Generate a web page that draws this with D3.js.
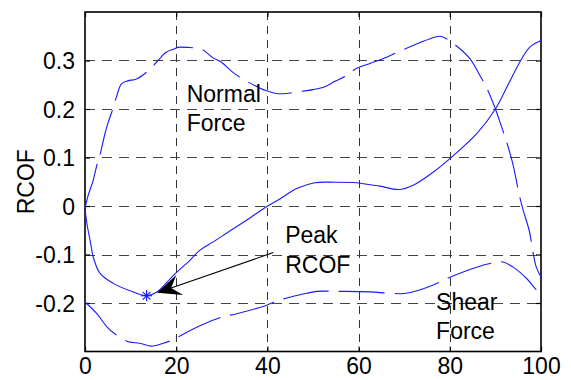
<!DOCTYPE html>
<html><head><meta charset="utf-8">
<script src="https://cdn.jsdelivr.net/npm/d3@7"></script>
<style>
html,body{margin:0;padding:0;background:#fff;}
svg{display:block;font-family:"Liberation Sans",Arial,sans-serif;}
</style></head>
<body><svg id="c" width="571" height="380"></svg>
<script>
const xTicks = [0, 20, 40, 60, 80, 100];
const yTicks = [-0.2, -0.1, 0, 0.1, 0.2, 0.3];
const yTickLabels = ["-0.2", "-0.1", "0", "0.1", "0.2", "0.3"];
const yLabel = "RCOF";

const normalForce = [[0,-0.005],[0.7,0.022],[1.8,0.053],[2.6,0.084],[3.2,0.102],[4.4,0.15],[5,0.17],[6.1,0.2],[6.9,0.225],[8,0.252],[9.4,0.258],[11.3,0.262],[14,0.28],[16,0.3],[17.8,0.317],[19.3,0.323],[20.4,0.327],[22.4,0.327],[25.6,0.323],[28,0.306],[30,0.296],[32.5,0.275],[35.5,0.257],[38.4,0.243],[39.7,0.238],[42,0.232],[44.2,0.232],[45.6,0.234],[50,0.24],[52.6,0.246],[54.8,0.257],[57.4,0.269],[59.6,0.284],[62.5,0.294],[66,0.306],[69,0.319],[73.5,0.337],[75.7,0.345],[77.9,0.35],[80.5,0.337],[84.4,0.304],[86.6,0.269],[88.1,0.243],[90,0.2],[91.4,0.162],[92.5,0.131],[93.9,0.084],[95.2,0.024],[96.1,-0.009],[97.4,-0.05],[98.3,-0.098],[98.9,-0.124],[100,-0.147]];

const rcof = [[0,-0.005],[0.4,-0.035],[1.3,-0.08],[1.8,-0.105],[3.3,-0.139],[6.1,-0.159],[10.5,-0.177],[13.5,-0.185],[15.7,-0.178],[19.4,-0.143],[23,-0.112],[25.2,-0.091],[28.1,-0.074],[32,-0.05],[35.5,-0.029],[39.7,-0.002],[42.8,0.015],[46.4,0.036],[50.4,0.048],[55,0.049],[59.6,0.048],[61,0.046],[64.7,0.041],[68.7,0.034],[72,0.043],[76.4,0.07],[79.7,0.095],[85.9,0.149],[90,0.2],[92.5,0.245],[95.8,0.304],[97.6,0.328],[100,0.341]];

const shearForce = [[0,-0.198],[2.6,-0.222],[4.8,-0.249],[6.6,-0.264],[9.5,-0.28],[12,-0.283],[14.6,-0.289],[17.2,-0.283],[19.5,-0.275],[21.6,-0.264],[25.2,-0.247],[30,-0.229],[33.3,-0.222],[39.7,-0.205],[42,-0.196],[45.3,-0.187],[48.6,-0.18],[50.8,-0.176],[56,-0.176],[62.5,-0.177],[66.9,-0.18],[70.5,-0.18],[76.4,-0.163],[79.3,-0.15],[84.4,-0.131],[88.1,-0.12],[91.4,-0.115],[93.9,-0.126],[96.9,-0.15],[98.7,-0.17],[100,-0.183]];

const peakPoint = [13.5, -0.185];
const arrowFrom = [41.3, -0.096];
const arrowTo = [15.8, -0.179];

const labels = [
  {lines:["Normal","Force"], x:22.3, y:0.214},
  {lines:["Peak","RCOF"], x:43.9, y:-0.077},
  {lines:["Shear","Force"], x:77, y:-0.215}
];

const svg = d3.select("#c");
const L = 85, R = 541, T = 12, B = 351.5;
const x = d3.scaleLinear().domain([0,100]).range([L,R]);
const y = d3.scaleLinear().domain([-0.3,0.4]).range([B,T]);
const fs = 23;

// grid
const grid = svg.append("g");
xTicks.filter(t => t>0 && t<100).forEach(t => {
  grid.append("line").attr("x1", Math.round(x(t))+0.5).attr("x2", Math.round(x(t))+0.5)
    .attr("y1", T).attr("y2", B).attr("stroke","#333").attr("stroke-dasharray","8,6");
});
yTicks.forEach(t => {
  grid.append("line").attr("y1", Math.round(y(t))+0.5).attr("y2", Math.round(y(t))+0.5)
    .attr("x1", L).attr("x2", R).attr("stroke","#444").attr("stroke-dasharray","10,7");
});

// axes with ticks (inside)
const axB = d3.axisBottom(x).tickValues(xTicks).tickSize(-5).tickFormat(d3.format("d"));
const axL = d3.axisLeft(y).tickValues(yTicks).tickSize(-5).tickPadding(10).tickFormat((d,i)=>yTickLabels[i]);
const axT = d3.axisTop(x).tickValues(xTicks).tickSize(-5).tickFormat("");
const axR = d3.axisRight(y).tickValues(yTicks).tickSize(-5).tickFormat("");
function style(g){
  g.select(".domain").remove();
  g.selectAll(".tick line").attr("stroke","#000").attr("stroke-width",1.2);
  g.selectAll("text").attr("font-size",fs).attr("fill","#000").attr("font-family","Liberation Sans, Arial, sans-serif");
}
svg.append("g").attr("transform",`translate(0,${B})`).call(axB).call(style)
  .selectAll("text").attr("y",22).attr("dy","0");
svg.append("g").attr("transform",`translate(${L},0)`).call(axL).call(style)
  .selectAll("text").attr("dy","0.35em");
svg.append("g").attr("transform",`translate(0,${T})`).call(axT).call(style);
svg.append("g").attr("transform",`translate(${R},0)`).call(axR).call(style);

// box
svg.append("rect").attr("x",L).attr("y",T).attr("width",R-L).attr("height",B-T)
  .attr("fill","none").attr("stroke","#000").attr("stroke-width",1.6);

// y label
svg.append("text").attr("transform",`translate(34,${(T+B)/2}) rotate(-90)`)
  .attr("text-anchor","middle").attr("font-size",fs).text(yLabel);

// curves
const line = d3.line().x(d=>x(d[0])).y(d=>y(d[1])).curve(d3.curveCatmullRom.alpha(0.5));
const curves = svg.append("g").attr("fill","none").attr("stroke","#1a1aff").attr("stroke-width",1.1);
curves.append("path").datum(normalForce).attr("d",line).attr("stroke-dasharray","46,10");
curves.append("path").datum(rcof).attr("d",line);
curves.append("path").datum(shearForce).attr("d",line).attr("stroke-dasharray","46,10");

// peak star marker
const px = x(peakPoint[0]), py = y(peakPoint[1]), r = 5.5;
const star = svg.append("g").attr("stroke","#1a1aff").attr("stroke-width",1.2);
[[0,1],[1,0],[0.707,0.707],[0.707,-0.707]].forEach(([a,b])=>{
  star.append("line").attr("x1",px-a*r).attr("y1",py-b*r).attr("x2",px+a*r).attr("y2",py+b*r);
});

// arrow
const ax0 = x(arrowFrom[0]), ay0 = y(arrowFrom[1]), ax1 = x(arrowTo[0]), ay1 = y(arrowTo[1]);
const len = Math.hypot(ax1-ax0, ay1-ay0), ux = (ax1-ax0)/len, uy = (ay1-ay0)/len;
const nx = -uy, ny = ux, HL = 24, HW = 10.5;
const bx = ax1 - ux*HL, by = ay1 - uy*HL;
const notchX = ax1 - ux*HL*0.62, notchY = ay1 - uy*HL*0.62;
svg.append("line").attr("x1",ax0).attr("y1",ay0).attr("x2",notchX).attr("y2",notchY)
  .attr("stroke","#000").attr("stroke-width",1.1);
svg.append("path").attr("d",`M${ax1},${ay1}L${bx+nx*HW},${by+ny*HW}L${notchX},${notchY}L${bx-nx*HW},${by-ny*HW}Z`)
  .attr("fill","#000");

// labels
labels.forEach(l=>{
  const t = svg.append("text").attr("x",x(l.x)).attr("y",y(l.y)).attr("font-size",fs).attr("fill","#000");
  l.lines.forEach((s,i)=>t.append("tspan").attr("x",x(l.x)).attr("dy", i? "1.27em":0).text(s));
});
</script>
</body></html>
